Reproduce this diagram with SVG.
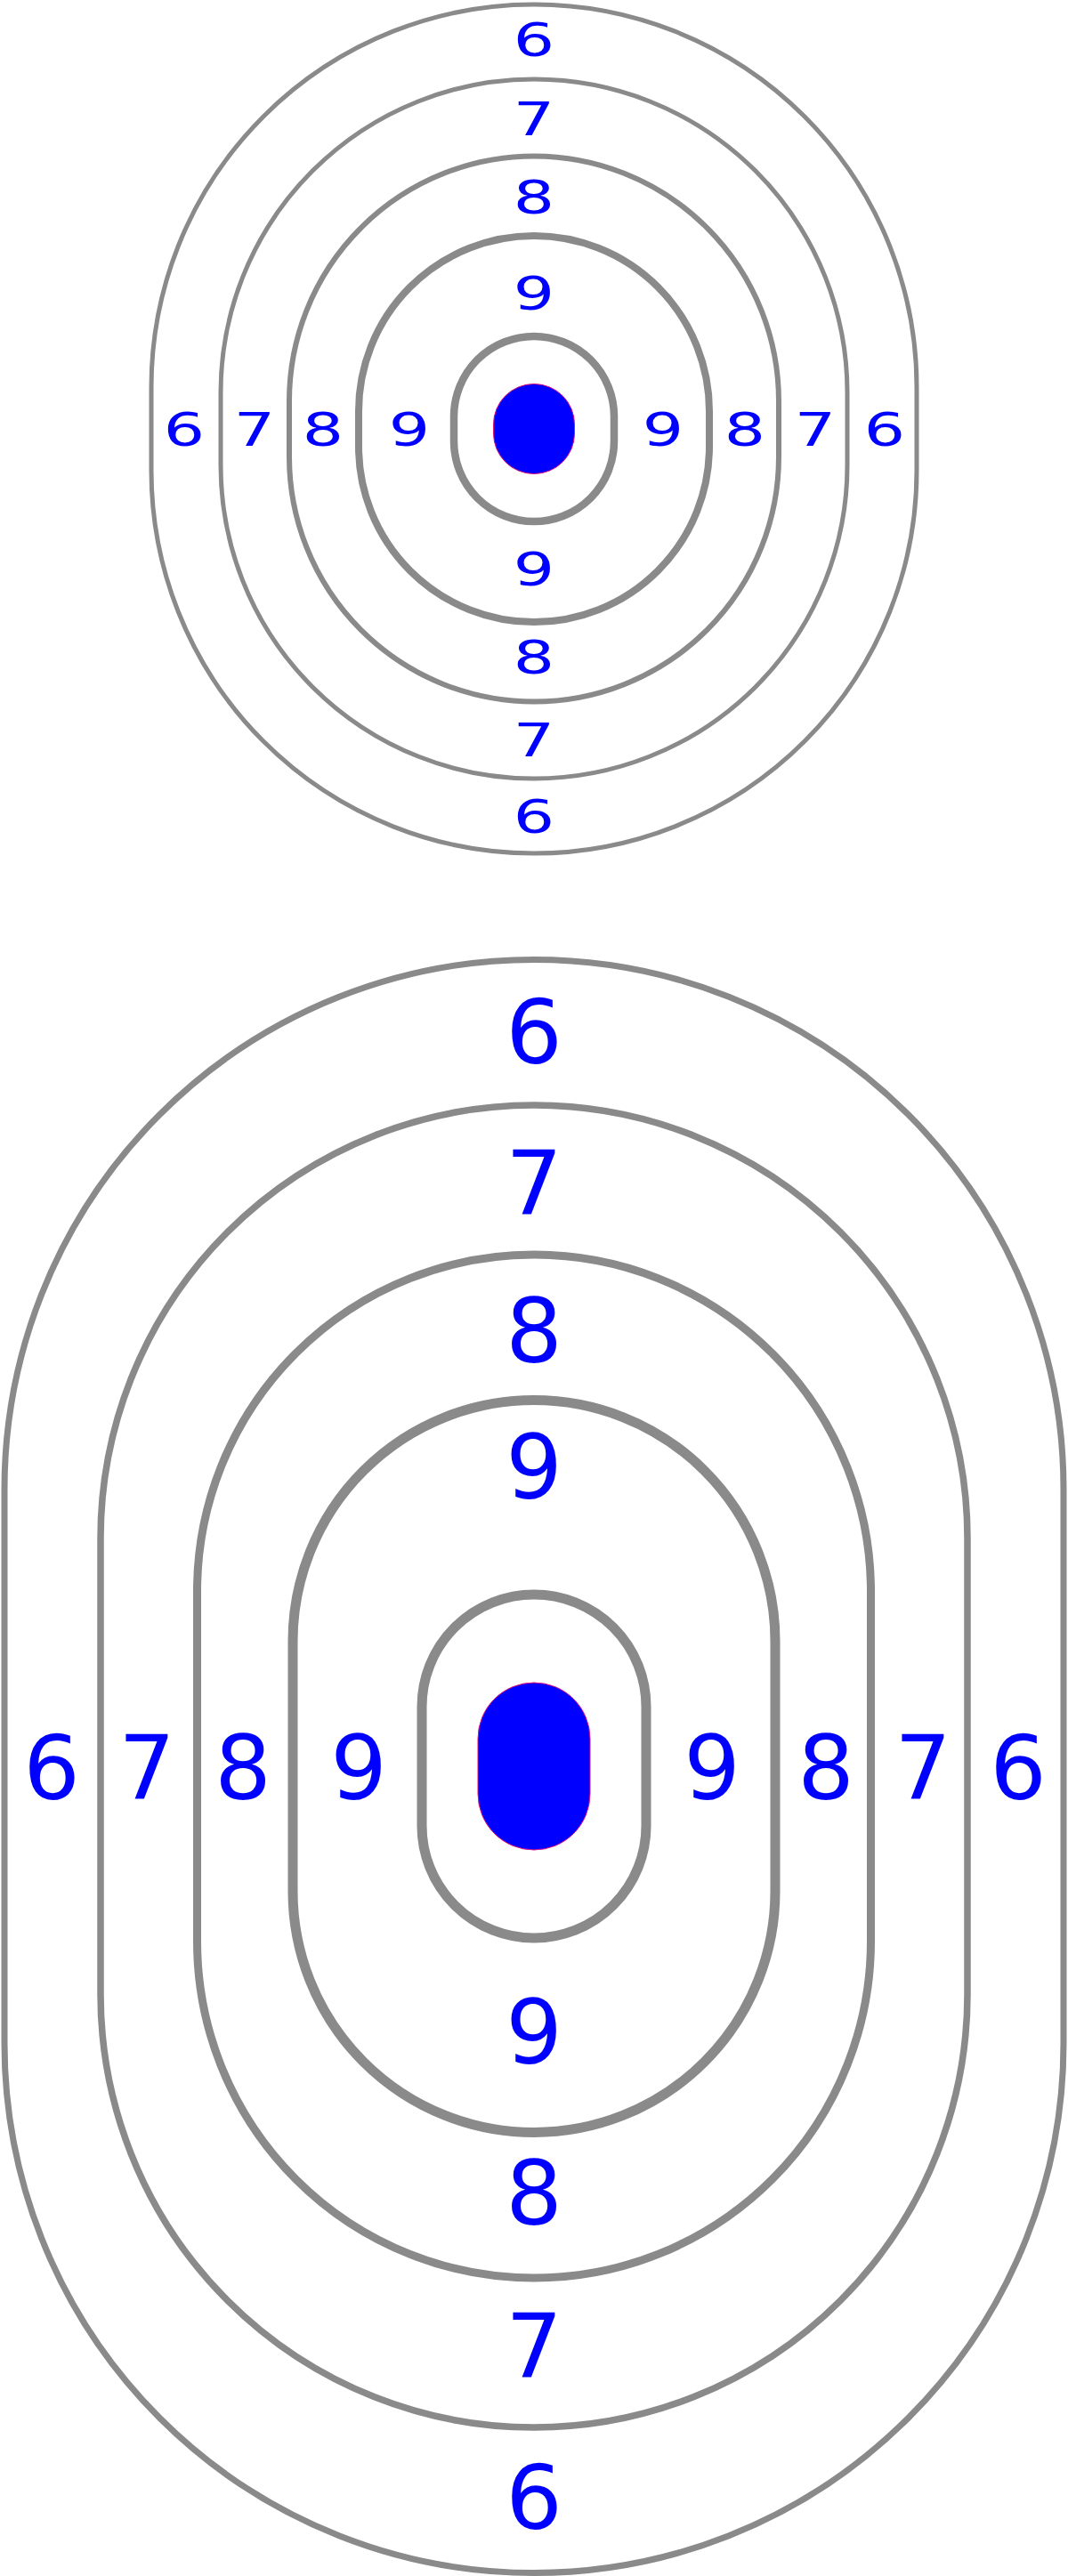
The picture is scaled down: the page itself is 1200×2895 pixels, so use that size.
<svg xmlns="http://www.w3.org/2000/svg" width="1200" height="2895" viewBox="0 0 1200 2895">
<style>
.ring{fill:none;stroke:#8a8a8a}
.bull{fill:#0000ff;stroke:#e0107a;stroke-width:1}
.lbl{fill:#0000ff;font-family:"DejaVu Sans","Liberation Sans",sans-serif;text-anchor:middle}
.big{font-size:100px}
.sm{font-size:52px}
</style>
<rect width="1200" height="2895" fill="#ffffff"/>
<g id="target-small">
  <g id="small-ring-6"><rect class="ring" stroke-width="5" x="170" y="5" width="860" height="954" rx="430" ry="430"/></g>
  <g id="small-ring-7"><rect class="ring" stroke-width="5" x="248" y="89" width="704" height="786" rx="352" ry="352"/></g>
  <g id="small-ring-8"><rect class="ring" stroke-width="6" x="325" y="175.5" width="550" height="613" rx="275" ry="275"/></g>
  <g id="small-ring-9"><rect class="ring" stroke-width="8" x="403" y="265" width="394" height="434" rx="197" ry="197"/></g>
  <g id="small-ring-10"><rect class="ring" stroke-width="8.5" x="510" y="378" width="180" height="208" rx="90" ry="90"/></g>
  <g id="small-bull"><rect class="bull" x="554.5" y="431.5" width="91" height="101" rx="45.5" ry="45.5"/></g>
  <g id="small-labels" class="lbl sm">
    <text transform="translate(600,63) scale(1.4,1)">6</text>
    <text transform="translate(600,152) scale(1.4,1)">7</text>
    <text transform="translate(600,240) scale(1.4,1)">8</text>
    <text transform="translate(600,348) scale(1.4,1)">9</text>
    <text transform="translate(600,658) scale(1.4,1)">9</text>
    <text transform="translate(600,757) scale(1.4,1)">8</text>
    <text transform="translate(600,850) scale(1.4,1)">7</text>
    <text transform="translate(600,936) scale(1.4,1)">6</text>
    <text transform="translate(207,501) scale(1.4,1)">6</text>
    <text transform="translate(286,501) scale(1.4,1)">7</text>
    <text transform="translate(363,501) scale(1.4,1)">8</text>
    <text transform="translate(460,501) scale(1.4,1)">9</text>
    <text transform="translate(745,501) scale(1.4,1)">9</text>
    <text transform="translate(837,501) scale(1.4,1)">8</text>
    <text transform="translate(916,501) scale(1.4,1)">7</text>
    <text transform="translate(994,501) scale(1.4,1)">6</text>
  </g>
</g>
<g id="target-large">
  <g id="large-ring-6"><rect class="ring" stroke-width="7" x="5" y="1078.5" width="1190" height="1813" rx="595" ry="595"/></g>
  <g id="large-ring-7"><rect class="ring" stroke-width="7.5" x="113" y="1242" width="974" height="1486" rx="487" ry="487"/></g>
  <g id="large-ring-8"><rect class="ring" stroke-width="9" x="221.5" y="1410" width="757" height="1150" rx="378.5" ry="378.5"/></g>
  <g id="large-ring-9"><rect class="ring" stroke-width="11" x="329" y="1573.5" width="542" height="823" rx="271" ry="271"/></g>
  <g id="large-ring-10"><rect class="ring" stroke-width="11" x="474" y="1792" width="252" height="386" rx="126" ry="126"/></g>
  <g id="large-bull"><rect class="bull" x="537" y="1891" width="126" height="188" rx="63" ry="63"/></g>
  <g id="large-labels" class="lbl big">
    <text x="600" y="1195">6</text>
    <text x="600" y="1365">7</text>
    <text x="600" y="1531">8</text>
    <text x="600" y="1684">9</text>
    <text x="600" y="2319">9</text>
    <text x="600" y="2500">8</text>
    <text x="600" y="2672">7</text>
    <text x="600" y="2842">6</text>
    <text x="58" y="2022">6</text>
    <text x="165" y="2022">7</text>
    <text x="273" y="2022">8</text>
    <text x="403" y="2022">9</text>
    <text x="800" y="2022">9</text>
    <text x="928" y="2022">8</text>
    <text x="1037" y="2022">7</text>
    <text x="1144" y="2022">6</text>
  </g>
</g>
</svg>
